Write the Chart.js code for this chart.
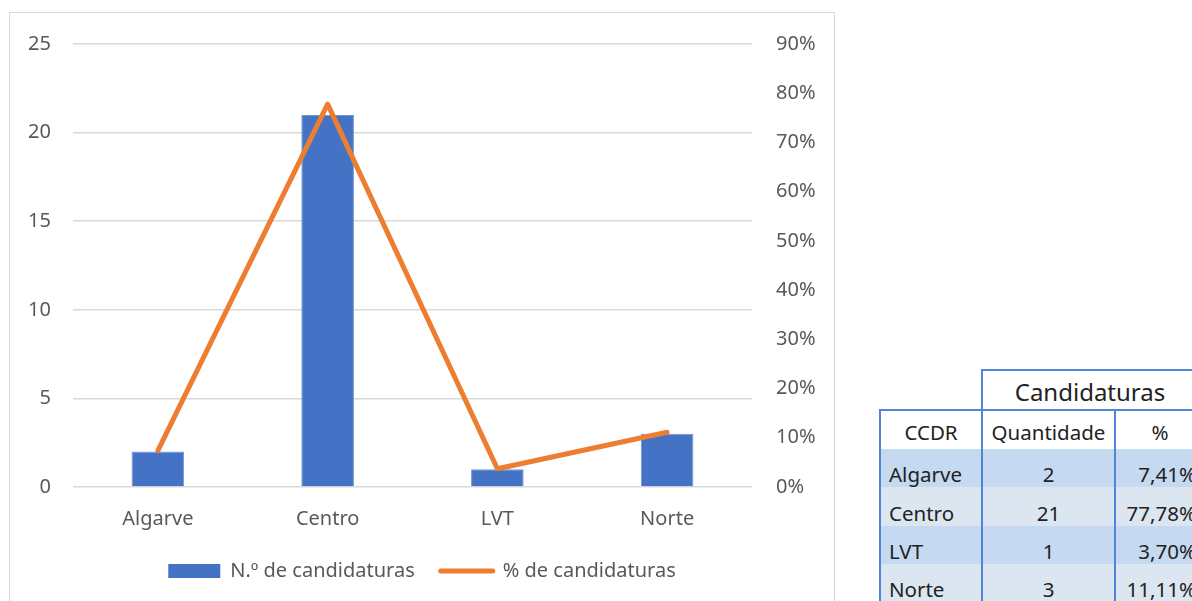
<!DOCTYPE html>
<html>
<head>
<meta charset="utf-8">
<script src="https://cdn.jsdelivr.net/npm/chart.js@4/dist/chart.umd.min.js"></script>
<style>
  html,body{margin:0;padding:0;background:#fff;width:1192px;height:601px;overflow:hidden;font-family:"Noto Sans",sans-serif;}
  #box{position:absolute;left:9px;top:12px;width:824px;height:640px;border:1px solid #d9d9d9;border-bottom:none;}
  #box canvas{position:absolute;left:0;top:-5px;}
  #tbl{position:absolute;left:879px;top:369px;width:317px;border-collapse:collapse;color:#222;font-size:20.5px;table-layout:fixed;}
  #tbl td{padding:0 8px;box-sizing:border-box;white-space:nowrap;vertical-align:bottom;line-height:26px;overflow:hidden;}
  #tbl td.b{border-left:2px solid #4f87d6;}
  #tbl tr.h1 td{height:40px;}
  #tbl tr.h1 td.t{border-top:2px solid #4f87d6;border-left:2px solid #4f87d6;font-size:24px;text-align:center;padding-bottom:2px;line-height:30px;}
  #tbl tr.h2 td{border-top:2px solid #4f87d6;text-align:center;height:39px;padding-bottom:4px;}
  #tbl tr.d1 td{background:#c5d9f1;height:38px;}
  #tbl tr.d2 td{background:#dce6f1;height:38.5px;}
  #tbl td.c1{text-align:left;}
  #tbl td.c2{text-align:center;}
  #tbl td.c3{text-align:right;padding-right:1px;}
</style>
</head>
<body>
<div id="box"><canvas id="c" width="824" height="600"></canvas></div>
<table id="tbl"><colgroup><col style="width:102px"><col style="width:133px"><col style="width:82px"></colgroup><tbody></tbody></table>
<script>
// dados
const categorias = ['Algarve','Centro','LVT','Norte'];
const numCandidaturas = [2, 21, 1, 3];
const pctCandidaturas = [7.41, 77.78, 3.70, 11.11];
const ticksEsq = [0, 5, 10, 15, 20, 25];
const ticksDir = [0, 10, 20, 30, 40, 50, 60, 70, 80, 90];

const AZUL = '#4472c4', LARANJA = '#ed7d31', CINZA = '#595959';
const FONTE = {family:'"Noto Sans", sans-serif', size:20};

new Chart(document.getElementById('c'), {
  data:{
    labels: categorias,
    datasets:[
      {type:'line', label:'% de candidaturas', data:pctCandidaturas, yAxisID:'y1',
       borderColor:LARANJA, backgroundColor:LARANJA, borderWidth:5, pointRadius:0,
       borderCapStyle:'round', borderJoinStyle:'round', tension:0, order:0},
      {type:'bar', label:'N.º de candidaturas', data:numCandidaturas, yAxisID:'y',
       backgroundColor:AZUL, borderColor:'#6f93d4', borderWidth:1,
       categoryPercentage:1, barPercentage:0.31, order:1}
    ]
  },
  options:{
    responsive:false, animation:false,
    layout:{padding:{top:20, bottom:17, left:0, right:0}},
    plugins:{
      tooltip:{enabled:false},
      legend:{
        position:'bottom', reverse:true,
        labels:{
          color:CINZA, font:FONTE, usePointStyle:true, pointStyleWidth:52, boxHeight:14, padding:26,
          generateLabels(chart){
            return chart.data.datasets.map((d,i)=>({
              text:d.label, datasetIndex:i,
              fillStyle:d.type==='bar'?AZUL:LARANJA,
              strokeStyle:d.type==='bar'?AZUL:LARANJA,
              lineWidth:d.type==='bar'?0:5,
              lineCap:'round',
              pointStyle:d.type==='bar'?'rect':'line',
              fontColor:CINZA
            }));
          }
        }
      }
    },
    scales:{
      x:{
        grid:{display:false}, border:{display:false},
        ticks:{color:CINZA, font:FONTE, padding:12},
        afterFit(s){ s.height = 48; }
      },
      y:{
        position:'left', min:0, max:25,
        afterBuildTicks(s){ s.ticks = ticksEsq.map(v=>({value:v})); },
        grid:{color:'#d9d9d9', lineWidth:1.5, drawTicks:false}, border:{display:false},
        ticks:{color:CINZA, font:FONTE, padding:22},
        afterFit(s){ s.width = 63; }
      },
      y1:{
        position:'right', min:0, max:90,
        afterBuildTicks(s){ s.ticks = ticksDir.map(v=>({value:v})); },
        grid:{display:false, drawTicks:false}, border:{display:false},
        ticks:{color:CINZA, font:FONTE, padding:24, callback:v=>v+'%'},
        afterFit(s){ s.width = 82; }
      }
    }
  }
});

// tabela
const tb = document.querySelector('#tbl tbody');
let html = '<tr class="h1"><td class="c1"></td><td class="t" colspan="2">Candidaturas</td></tr>';
html += '<tr class="h2"><td class="c1 b" style="text-align:center">CCDR</td><td class="c2 b">Quantidade</td><td class="c3 b" style="text-align:center">%</td></tr>';
categorias.forEach((c,i)=>{
  html += `<tr class="${i%2?'d2':'d1'}"><td class="c1 b">${c}</td><td class="c2 b">${numCandidaturas[i]}</td><td class="c3 b">${pctCandidaturas[i].toFixed(2).replace('.',',')}%</td></tr>`;
});
tb.innerHTML = html;
</script>
</body>
</html>
